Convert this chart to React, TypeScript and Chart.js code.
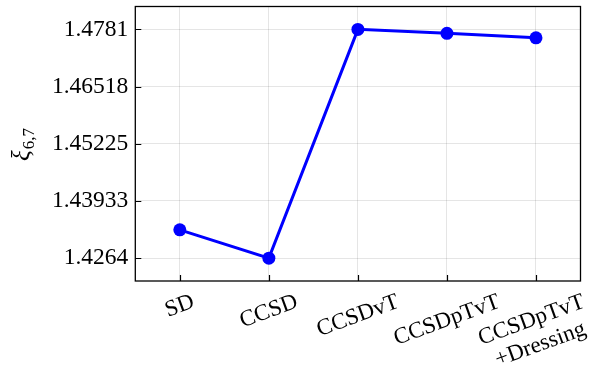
import { useEffect, useRef } from "react";
import { Chart, registerables } from "chart.js";

Chart.register(...registerables);

const categories: (string | string[])[] = ["SD", "CCSD", "CCSDvT", "CCSDpTvT", ["CCSDpTvT", "+Dressing"]];
const xiValues = [1.4328, 1.4264, 1.4781, 1.4772, 1.4762];
const yTickValues = [1.4264, 1.43933, 1.45225, 1.46518, 1.4781];
const yTickLabels = ["1.4264", "1.43933", "1.45225", "1.46518", "1.4781"];
const yMin = 1.42123;
const yMax = 1.48327;

const FONT = '"Liberation Serif", "Times New Roman", serif';

const decoPlugin = {
  id: "deco",
  afterDraw(chart: any) {
    const ctx = chart.ctx as CanvasRenderingContext2D;
    const a = chart.chartArea;
    const xs = chart.scales.x;
    const ys = chart.scales.y;
    ctx.save();
    // frame
    ctx.strokeStyle = "#000";
    ctx.lineWidth = 1.3;
    ctx.strokeRect(a.left, a.top, a.right - a.left, a.bottom - a.top);
    // inward ticks
    ctx.lineWidth = 1.2;
    ctx.beginPath();
    yTickValues.forEach((v) => {
      const y = Math.round(ys.getPixelForValue(v)) + 0.5;
      ctx.moveTo(a.left, y);
      ctx.lineTo(a.left + 6, y);
    });
    categories.forEach((_, i) => {
      const x = Math.round(xs.getPixelForValue(i)) + 0.5;
      ctx.moveTo(x, a.bottom);
      ctx.lineTo(x, a.bottom - 6);
    });
    ctx.stroke();
    // x labels rotated 20deg, centered
    ctx.fillStyle = "#000";
    ctx.font = `23px ${FONT}`;
    const th = (20 * Math.PI) / 180;
    const lh = 26;
    categories.forEach((lab, i) => {
      const lines = Array.isArray(lab) ? lab : [lab];
      const x = xs.getPixelForValue(i);
      const w = Math.max(...lines.map((l) => ctx.measureText(l).width));
      const h = lines.length * lh;
      const bh = w * Math.sin(th) + h * Math.cos(th);
      const cy = a.bottom + 8 + bh / 2;
      ctx.save();
      ctx.translate(x, cy);
      ctx.rotate(-th);
      ctx.textAlign = "center";
      ctx.textBaseline = "middle";
      lines.forEach((l, j) => ctx.fillText(l, 0, (j - (lines.length - 1) / 2) * lh));
      ctx.restore();
    });
    // y title
    ctx.save();
    ctx.translate(29, 145);
    ctx.rotate(-Math.PI / 2);
    ctx.textAlign = "left";
    ctx.textBaseline = "alphabetic";
    ctx.font = `italic 25px ${FONT}`;
    const wx = ctx.measureText("ξ").width;
    ctx.font = `17px ${FONT}`;
    const wsub = ctx.measureText("6,7").width;
    const start = -(wx + wsub) / 2;
    ctx.font = `italic 25px ${FONT}`;
    ctx.fillText("ξ", start, 0);
    ctx.font = `17px ${FONT}`;
    ctx.fillText("6,7", start + wx + 1, 5);
    ctx.restore();
    ctx.restore();
  },
};

export default function App() {
  const ref = useRef<HTMLCanvasElement>(null);
  useEffect(() => {
    if (!ref.current) return;
    const chart = new Chart(ref.current, {
      type: "line",
      data: {
        labels: categories as any,
        datasets: [
          {
            data: xiValues,
            borderColor: "#0000ff",
            backgroundColor: "#0000ff",
            borderWidth: 3,
            pointRadius: 6.5,
            pointBorderWidth: 0,
            pointBackgroundColor: "#0000ff",
            tension: 0,
          },
        ],
      },
      options: {
        animation: false,
        responsive: false,
        devicePixelRatio: 1,
        layout: { padding: { top: 6, right: 24.5, left: 0, bottom: 0 } },
        plugins: { legend: { display: false }, tooltip: { enabled: false } },
        scales: {
          x: {
            type: "category",
            offset: true,
            grid: { color: "rgba(0,0,0,0.1)", lineWidth: 1, drawTicks: false, offset: false },
            border: { display: false },
            ticks: { display: false },
            afterFit: (s: any) => {
              s.height = 102;
              s.paddingLeft = 0;
              s.paddingRight = 0;
            },
          },
          y: {
            type: "linear",
            min: yMin,
            max: yMax,
            grid: { color: "rgba(0,0,0,0.1)", lineWidth: 1, drawTicks: false },
            border: { display: false },
            afterBuildTicks: (s: any) => {
              s.ticks = yTickValues.map((v) => ({ value: v }));
            },
            ticks: {
              padding: 7,
              color: "#000",
              font: { family: FONT, size: 23.5 },
              callback: (_v: any, i: number) => yTickLabels[i],
            },
            afterFit: (s: any) => {
              s.width = 135.3;
              s.paddingTop = 0;
              s.paddingBottom = 0;
            },
          },
        },
      },
      plugins: [decoPlugin],
    });
    return () => chart.destroy();
  }, []);
  return (
    <div style={{ position: "absolute", left: 0, top: 0, width: 605, height: 383, background: "#fff" }}>
      <canvas ref={ref} width={605} height={383} style={{ width: 605, height: 383 }} />
    </div>
  );
}
